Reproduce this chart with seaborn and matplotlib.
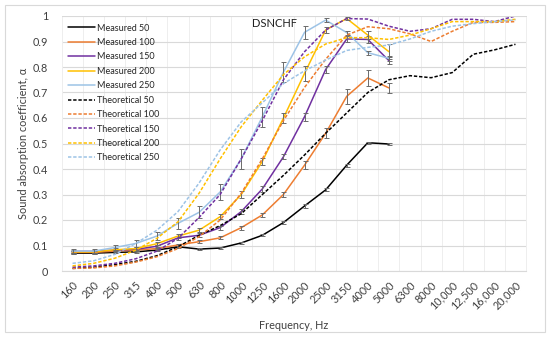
import seaborn as sns
import numpy as np
import matplotlib.pyplot as plt
from matplotlib.patches import Rectangle

# Frequencies (category axis)
freq_labels = ["160", "200", "250", "315", "400", "500", "630", "800", "1000", "1250",
               "1600", "2000", "2500", "3150", "4000", "5000", "6300", "8000",
               "10,000", "12,500", "16,000", "20,000"]

# Measured values (160 - 5000 Hz)
measured_50 = [0.070, 0.070, 0.073, 0.075, 0.082, 0.095, 0.086, 0.090, 0.110, 0.140, 0.190, 0.255, 0.318, 0.415, 0.503, 0.498]
measured_100 = [0.073, 0.073, 0.078, 0.082, 0.088, 0.102, 0.115, 0.130, 0.170, 0.220, 0.300, 0.415, 0.540, 0.685, 0.757, 0.718]
measured_150 = [0.077, 0.077, 0.082, 0.085, 0.097, 0.130, 0.140, 0.170, 0.233, 0.322, 0.448, 0.605, 0.790, 0.910, 0.908, 0.825]
measured_200 = [0.075, 0.075, 0.083, 0.088, 0.107, 0.137, 0.160, 0.213, 0.300, 0.430, 0.600, 0.775, 0.945, 0.990, 0.925, 0.860]
measured_250 = [0.078, 0.078, 0.092, 0.108, 0.137, 0.187, 0.230, 0.310, 0.440, 0.605, 0.780, 0.936, 0.984, 0.935, 0.856, 0.834]

# Error (half range) of measured values
err_50 = [0.004, 0.004, 0.004, 0.004, 0.004, 0.004, 0.004, 0.004, 0.004, 0.004, 0.005, 0.006, 0.006, 0.006, 0.004, 0.004]
err_100 = [0.005, 0.005, 0.005, 0.005, 0.005, 0.005, 0.006, 0.006, 0.008, 0.008, 0.010, 0.015, 0.020, 0.030, 0.030, 0.020]
err_150 = [0.005, 0.005, 0.005, 0.005, 0.006, 0.008, 0.008, 0.008, 0.010, 0.012, 0.010, 0.015, 0.015, 0.010, 0.015, 0.015]
err_200 = [0.005, 0.005, 0.006, 0.006, 0.006, 0.008, 0.008, 0.010, 0.012, 0.015, 0.020, 0.028, 0.010, 0.005, 0.015, 0.030]
err_250 = [0.008, 0.008, 0.010, 0.012, 0.016, 0.022, 0.023, 0.033, 0.040, 0.040, 0.040, 0.026, 0.008, 0.008, 0.008, 0.010]

# Theoretical values (160 - 20000 Hz)
theoretical_50 = [0.010, 0.015, 0.025, 0.038, 0.060, 0.095, 0.140, 0.178, 0.225, 0.300, 0.375, 0.455, 0.540, 0.620, 0.700, 0.750, 0.766, 0.758, 0.778, 0.850, 0.867, 0.889]
theoretical_100 = [0.010, 0.012, 0.020, 0.035, 0.056, 0.088, 0.135, 0.200, 0.305, 0.440, 0.590, 0.720, 0.830, 0.925, 0.958, 0.950, 0.930, 0.900, 0.940, 0.975, 0.975, 0.978]
theoretical_150 = [0.015, 0.020, 0.030, 0.048, 0.078, 0.128, 0.210, 0.300, 0.440, 0.590, 0.750, 0.860, 0.945, 0.990, 0.988, 0.960, 0.940, 0.950, 0.987, 0.987, 0.978, 1.000]
theoretical_200 = [0.020, 0.030, 0.050, 0.082, 0.128, 0.193, 0.305, 0.440, 0.566, 0.670, 0.770, 0.840, 0.890, 0.915, 0.915, 0.908, 0.925, 0.950, 0.978, 0.978, 0.978, 0.987]
theoretical_250 = [0.030, 0.040, 0.065, 0.108, 0.160, 0.233, 0.345, 0.475, 0.585, 0.660, 0.735, 0.785, 0.827, 0.865, 0.877, 0.886, 0.910, 0.940, 0.960, 0.970, 0.978, 0.985]

thicknesses = ["50", "100", "150", "200", "250"]
colors = ["#000000", "#ED7D31", "#7030A0", "#FFC000", "#9DC3E6"]
measured = [measured_50, measured_100, measured_150, measured_200, measured_250]
errors = [err_50, err_100, err_150, err_200, err_250]
theoretical = [theoretical_50, theoretical_100, theoretical_150, theoretical_200, theoretical_250]

sns.set_style("white")
plt.rcParams['font.family'] = ['Lato', 'DejaVu Sans']

fig = plt.figure(figsize=(5.5, 3.37), dpi=100)
# light chart border like the Excel chart area
fig.patches.append(Rectangle((5 / 550, 5 / 337), 540 / 550, 327 / 337, transform=fig.transFigure,
                             fill=False, edgecolor='#d9d9d9', linewidth=0.8))
ax = fig.add_axes([62 / 550, 66 / 337, 464 / 550, 255 / 337])

x_all = np.arange(len(freq_labels))

for name, c, m, e in zip(thicknesses, colors, measured, errors):
    xm = x_all[:len(m)]
    sns.lineplot(x=xm, y=m, color=c, linewidth=1.1, label='Measured ' + name, ax=ax)
    ax.errorbar(xm, m, yerr=e, fmt='none', ecolor='#6b6b6b', elinewidth=0.7, capsize=1.8, capthick=0.7)

for name, c, t in zip(thicknesses, colors, theoretical):
    sns.lineplot(x=x_all, y=t, color=c, linewidth=1.1, dashes=False, label='Theoretical ' + name, ax=ax)
    ax.lines[-1].set_dashes((2.2, 1.2))

ax.set_xlim(-0.5, len(freq_labels) - 0.5)
ax.set_ylim(0, 1)
ax.set_yticks(np.arange(0, 1.01, 0.1))
ax.set_yticklabels(['0', '0.1', '0.2', '0.3', '0.4', '0.5', '0.6', '0.7', '0.8', '0.9', '1'])
ax.set_xticks(x_all)
ax.set_xticklabels(freq_labels, rotation=45, ha='right', rotation_mode='anchor')
ax.set_xticks(np.arange(-0.5, len(freq_labels), 0.5), minor=True)
ax.tick_params(axis='both', which='both', length=0, labelsize=7.8, colors='#404040')
ax.tick_params(axis='y', pad=10)
ax.tick_params(axis='x', pad=6)

ax.grid(axis='y', which='major', color='#d9d9d9', linewidth=0.8)
ax.grid(axis='x', which='minor', color='#eeeeee', linewidth=0.7)
ax.set_axisbelow(True)
for side in ['top', 'right', 'left']:
    ax.spines[side].set_color('#eeeeee')
    ax.spines[side].set_linewidth(0.7)
ax.spines['top'].set_color('#d9d9d9')
ax.spines['bottom'].set_color('#d9d9d9')
ax.spines['bottom'].set_linewidth(0.8)

ax.set_xlabel("Frequency, Hz", fontsize=7.8, color='#404040', labelpad=6)
ax.set_ylabel("Sound absorption coefficient, α", fontsize=7.8, color='#404040', labelpad=3)

ax.text(0.41, 0.972, "DSNCHF", transform=ax.transAxes, fontsize=8, ha='left', va='center', color='#202020')

ax.legend(loc='upper left', bbox_to_anchor=(0.0, 0.995), frameon=False, fontsize=6.5,
          handlelength=2.9, handletextpad=0.3, labelspacing=0.6, borderaxespad=0.3)

fig.savefig("out.png", dpi=100)
